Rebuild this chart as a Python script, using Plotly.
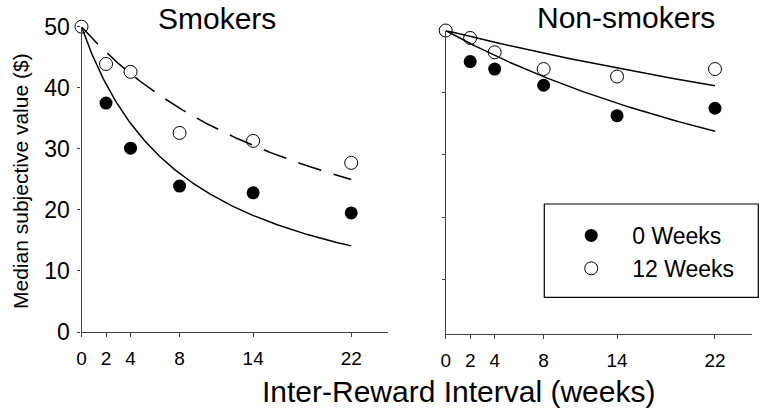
import numpy as np
import plotly.graph_objects as go

W, H = 762, 416

delays = [0, 2, 4, 8, 14, 22]
x_ticks = [0, 2, 4, 8, 14, 22]
y_ticks_left = [0, 10, 20, 30, 40, 50]
y_ticks_right = [10, 20, 30, 40]

# 0-week filled markers at delay 0 are hidden under the open marker in the original
smokers_0wk = [None, 37.5, 30.1, 23.9, 22.8, 19.5]
smokers_12wk = [50.0, 43.9, 42.6, 32.6, 31.3, 27.7]
nonsmokers_0wk = [None, 45.0, 43.8, 41.2, 36.3, 37.5]
nonsmokers_12wk = [50.0, 48.8, 46.5, 43.8, 42.6, 43.8]

# hyperbolic discounting fits V = A / (1 + k D)
amount = 50.0
k_smokers_0wk = 0.1157
k_smokers_12wk = 0.0455
k_nonsmokers_0wk = 0.0218
k_nonsmokers_12wk = 0.0098

font = "Liberation Sans, Arial, sans-serif"
dcurve = np.linspace(0, 22, 200)


def hyper(k):
    return amount / (1 + k * dcurve)


def px(x):
    return x / W


def py(y):
    return 1 - y / H


fig = go.Figure()

line_style = dict(color="black", width=1.5)
filled = dict(symbol="circle", size=13, color="black")
hollow = dict(symbol="circle-open", size=13, color="black", line=dict(width=1))

# left panel
fig.add_trace(go.Scatter(x=dcurve, y=hyper(k_smokers_0wk), mode="lines", line=line_style,
                         showlegend=False, xaxis="x", yaxis="y", hoverinfo="skip"))
fig.add_trace(go.Scatter(x=dcurve, y=hyper(k_smokers_12wk), mode="lines",
                         line=dict(color="black", width=1.5, dash="24px,13px"),
                         showlegend=False, xaxis="x", yaxis="y", hoverinfo="skip"))
fig.add_trace(go.Scatter(x=delays, y=smokers_0wk, mode="markers", name="0 Weeks",
                         marker=filled, cliponaxis=False,
                         xaxis="x", yaxis="y", legendrank=1))
fig.add_trace(go.Scatter(x=delays, y=smokers_12wk, mode="markers", name="12 Weeks",
                         marker=hollow, cliponaxis=False,
                         xaxis="x", yaxis="y", legendrank=2))

# right panel
fig.add_trace(go.Scatter(x=delays, y=nonsmokers_0wk, mode="markers", showlegend=False,
                         marker=filled, cliponaxis=False, xaxis="x2", yaxis="y2"))
fig.add_trace(go.Scatter(x=delays, y=nonsmokers_12wk, mode="markers", showlegend=False,
                         marker=hollow, cliponaxis=False, xaxis="x2", yaxis="y2"))
fig.add_trace(go.Scatter(x=dcurve, y=hyper(k_nonsmokers_0wk), mode="lines", line=line_style,
                         showlegend=False, xaxis="x2", yaxis="y2", hoverinfo="skip"))
fig.add_trace(go.Scatter(x=dcurve, y=hyper(k_nonsmokers_12wk), mode="lines", line=line_style,
                         showlegend=False, xaxis="x2", yaxis="y2", hoverinfo="skip"))

axis_common = dict(showgrid=False, zeroline=False, showline=True, linecolor="#404040",
                   linewidth=1.3, ticks="outside", tickcolor="#404040", tickwidth=1,
                   automargin=False,
                   tickfont=dict(family=font, size=19, color="black"))


def label(text, x, y, size, angle=0):
    return dict(text=text, x=px(x), y=py(y), xref="paper", yref="paper",
                xanchor="center", yanchor="middle", showarrow=False, textangle=angle,
                font=dict(family=font, size=size, color="black"))


fig.update_layout(
    template="none",
    width=W, height=H,
    autosize=False,
    margin=dict(l=0, r=0, t=0, b=0, pad=0),
    paper_bgcolor="white", plot_bgcolor="white",
    xaxis=dict(domain=[px(81.5), px(388)], range=[0, 25], tickvals=x_ticks, ticklen=4,
               ticklabelstandoff=5, anchor="y", **axis_common),
    yaxis=dict(domain=[py(332), py(26.7)], range=[0, 50], tickvals=y_ticks_left, ticklen=3,
               ticklabelstandoff=3, anchor="x",
               **{**axis_common, "tickfont": dict(family=font, size=23, color="black")}),
    xaxis2=dict(domain=[px(445.7), px(751.7)], range=[0, 25], tickvals=x_ticks, ticklen=4,
                ticklabelstandoff=5, anchor="y2", **axis_common),
    yaxis2=dict(domain=[py(333.7), py(30.5)], range=[1.25, 50], tickvals=y_ticks_right, ticklen=3,
                showticklabels=False, anchor="x2", **axis_common),
    showlegend=True,
    legend=dict(x=px(550.2), y=py(214), xanchor="left", yanchor="top",
                bgcolor="rgba(0,0,0,0)", borderwidth=0, itemwidth=72,
                font=dict(family=font, size=23, color="black"), tracegroupgap=0,
                itemsizing="trace"),
    shapes=[dict(type="rect", xref="paper", yref="paper",
                 x0=px(544.3), x1=px(758.3), y0=py(297.3), y1=py(204),
                 line=dict(color="black", width=1.2), fillcolor="rgba(0,0,0,0)")],
    annotations=[
        label("Smokers", 217, 19, 30),
        label("Non-smokers", 626, 17.5, 30),
        label("Inter-Reward Interval (weeks)", 458, 391, 30),
        label("Median subjective value ($)", 20, 181, 21, -90),
    ],
)

fig.write_html("out.html", config={"displayModeBar": False},
               post_script="document.body.style.margin='0';document.body.style.overflow='hidden';")
